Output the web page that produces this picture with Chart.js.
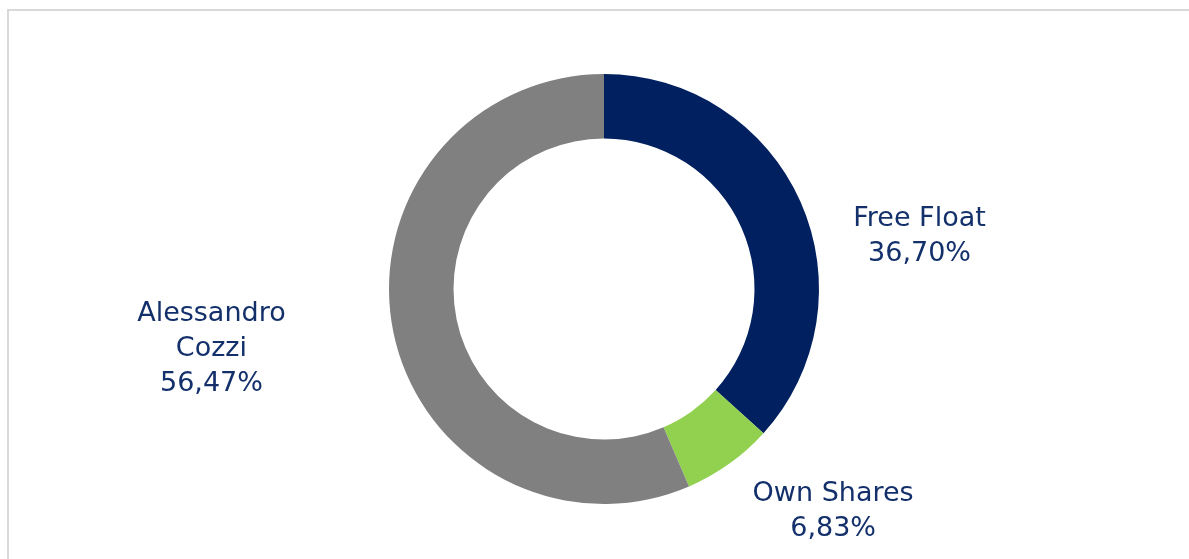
<!DOCTYPE html>
<html>
<head>
<meta charset="utf-8">
<script src="https://cdn.jsdelivr.net/npm/chart.js@4"></script>
<style>
  body { margin: 0; background: #fff; }
  .wrap { position: relative; width: 1189px; height: 559px; overflow: hidden; }
  .frame { position: absolute; left: 7px; top: 9px; right: -5px; bottom: -5px;
           border-top: 2px solid #d9d9d9; border-left: 2px solid #d9d9d9; }
  canvas { position: absolute; left: 0; top: 0; }
</style>
</head>
<body>
<div class="wrap">
  <div class="frame"></div>
  <canvas id="graph" width="1189" height="559"></canvas>
</div>
<script>
// data
const categories = [['Free Float'], ['Own Shares'], ['Alessandro', 'Cozzi']];
const shares = [36.70, 6.83, 56.47];
const colors = ['#002060', '#92d050', '#808080'];

// where each label sits relative to the outer edge of its slice
const labelOffsets = [[119, 35], [104, 48], [-182, 17]];

const outsideLabels = {
  id: 'outsideLabels',
  afterDatasetsDraw(chart) {
    const ctx = chart.ctx;
    const meta = chart.getDatasetMeta(0);
    ctx.save();
    ctx.font = '27px "DejaVu Sans"';
    ctx.fillStyle = '#13306b';
    ctx.textAlign = 'center';
    ctx.textBaseline = 'middle';
    meta.data.forEach((arc, i) => {
      const p = arc.getProps(['x', 'y', 'startAngle', 'endAngle', 'outerRadius'], true);
      const mid = (p.startAngle + p.endAngle) / 2;
      const cx = p.x + Math.cos(mid) * p.outerRadius + labelOffsets[i][0];
      const cy = p.y + Math.sin(mid) * p.outerRadius + labelOffsets[i][1];
      const lines = categories[i].concat([shares[i].toFixed(2).replace('.', ',') + '%']);
      const lh = 35;
      lines.forEach((t, j) => {
        ctx.fillText(t, cx, cy + (j - (lines.length - 1) / 2) * lh);
      });
    });
    ctx.restore();
  }
};

const graph = document.getElementById('graph').getContext('2d');
let myChart = new Chart(graph, {
  type: 'doughnut',
  data: {
    labels: categories,
    datasets: [{
      data: shares,
      backgroundColor: colors,
      borderWidth: 0
    }]
  },
  options: {
    responsive: false,
    animation: false,
    cutout: '70%',
    layout: {
      padding: { top: 74, bottom: 55, left: 19, right: 0 }
    },
    plugins: {
      legend: { display: false },
      tooltip: { enabled: false }
    }
  },
  plugins: [outsideLabels]
});
</script>
</body>
</html>
